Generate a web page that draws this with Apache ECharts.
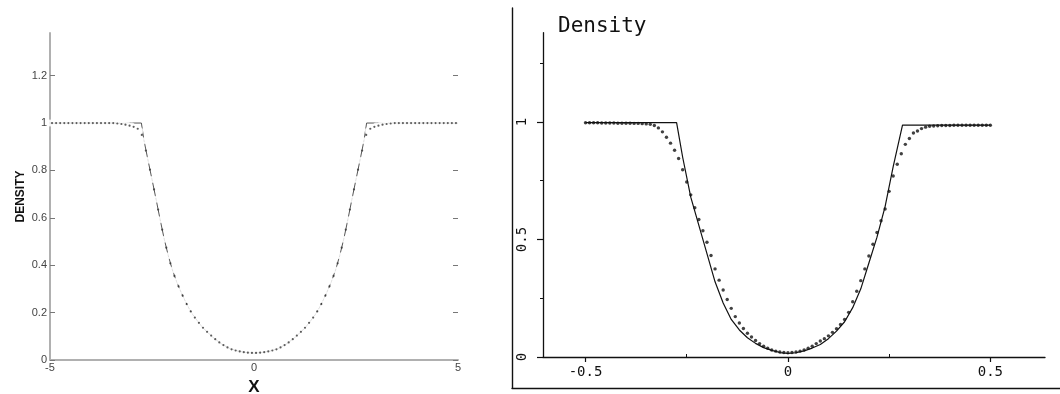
<!DOCTYPE html>
<html>
<head>
<meta charset="utf-8">
<script src="https://cdn.jsdelivr.net/npm/echarts@6/dist/echarts.min.js"></script>
<style>
  html, body { margin: 0; padding: 0; background: #ffffff; }
  #chart { width: 1060px; height: 394px; }
</style>
</head>
<body>
<div id="chart"></div>
<script>
// ---- Left panel: density on [-5, 5] ----
const leftTicksY = [0, 0.2, 0.4, 0.6, 0.8, 1, 1.2];
const leftTicksX = [-5, 0, 5];

// exact solution (solid line)
const leftExactX = [-5, -2.76, -2.7, -2.6, -2.5, -2.4, -2.3, -2.2, -2.1, -2, -1.9, -1.8, -1.7, -1.6, -1.5, -1.4, -1.3, -1.2, -1.1, -1, -0.8, -0.6, -0.4, -0.2, 0,
                    0.2, 0.4, 0.6, 0.8, 1, 1.1, 1.2, 1.3, 1.4, 1.5, 1.6, 1.7, 1.8, 1.9, 2, 2.1, 2.2, 2.3, 2.4, 2.5, 2.6, 2.7, 2.76, 5];
const leftExactY = [1, 1, 0.93, 0.845, 0.762, 0.678, 0.592, 0.51, 0.44, 0.38, 0.332, 0.291, 0.254, 0.22, 0.191, 0.168, 0.146, 0.127, 0.111, 0.095, 0.068, 0.049, 0.038, 0.032, 0.029,
                    0.032, 0.038, 0.049, 0.068, 0.095, 0.111, 0.127, 0.146, 0.168, 0.191, 0.22, 0.254, 0.291, 0.332, 0.38, 0.44, 0.51, 0.592, 0.678, 0.762, 0.845, 0.93, 1, 1];

// computed values, open circles
const leftCircleX = [-5, -4.9, -4.8, -4.7, -4.6, -4.5, -4.4, -4.3, -4.2, -4.1, -4, -3.9, -3.8, -3.7, -3.6, -3.5, -3.4, -3.3, -3.2, -3.1,
                     -3, -2.9, -2.8, -2.7, -2.6, -2.5, -2.4, -2.3, -2.2, -2.1, -2, -1.9, -1.8, -1.7, -1.6, -1.5, -1.4, -1.3, -1.2, -1.1,
                     -1, -0.9, -0.8, -0.7, -0.6, -0.5, -0.4, -0.3, -0.2, -0.1, 0, 0.1, 0.2, 0.3, 0.4, 0.5, 0.6, 0.7, 0.8, 0.9,
                     1, 1.1, 1.2, 1.3, 1.4, 1.5, 1.6, 1.7, 1.8, 1.9, 2, 2.1, 2.2, 2.3, 2.4, 2.5, 2.6, 2.7, 2.8, 2.9,
                     3, 3.1, 3.2, 3.3, 3.4, 3.5, 3.6, 3.7, 3.8, 3.9, 4, 4.1, 4.2, 4.3, 4.4, 4.5, 4.6, 4.7, 4.8, 4.9, 5];
const leftCircleY = [1, 1, 1, 1, 1, 1, 1, 1, 1, 1, 1, 1, 1, 1, 1, 1, 0.999, 0.997, 0.995, 0.991,
                     0.987, 0.981, 0.968, 0.925, 0.843, 0.762, 0.678, 0.592, 0.51, 0.44, 0.38, 0.332, 0.291, 0.254, 0.22, 0.191, 0.168, 0.146, 0.127, 0.111,
                     0.095, 0.081, 0.068, 0.058, 0.049, 0.042, 0.038, 0.034, 0.032, 0.03, 0.029, 0.03, 0.032, 0.034, 0.038, 0.042, 0.049, 0.058, 0.068, 0.081,
                     0.095, 0.111, 0.127, 0.146, 0.168, 0.191, 0.22, 0.254, 0.291, 0.332, 0.38, 0.44, 0.51, 0.592, 0.678, 0.762, 0.843, 0.925, 0.968, 0.981,
                     0.987, 0.991, 0.995, 0.997, 0.999, 1, 1, 1, 1, 1, 1, 1, 1, 1, 1, 1, 1, 1, 1, 1, 1];

// computed values, small dots (half-cell positions)
const leftDotX = [-4.95, -4.85, -4.75, -4.65, -4.55, -4.45, -4.35, -4.25, -4.15, -4.05, -3.95, -3.85, -3.75, -3.65, -3.55, -3.45, -3.35, -3.25, -3.15, -3.05,
                  -2.95, -2.85, -2.75, -2.65, -2.55, -2.45, -2.35, -2.25, -2.15, -2.05, -1.95, -1.85, -1.75, -1.65, -1.55, -1.45, -1.35, -1.25, -1.15, -1.05,
                  -0.95, -0.85, -0.75, -0.65, -0.55, -0.45, -0.35, -0.25, -0.15, -0.05, 0.05, 0.15, 0.25, 0.35, 0.45, 0.55, 0.65, 0.75, 0.85, 0.95,
                  1.05, 1.15, 1.25, 1.35, 1.45, 1.55, 1.65, 1.75, 1.85, 1.95, 2.05, 2.15, 2.25, 2.35, 2.45, 2.55, 2.65, 2.75, 2.85, 2.95,
                  3.05, 3.15, 3.25, 3.35, 3.45, 3.55, 3.65, 3.75, 3.85, 3.95, 4.05, 4.15, 4.25, 4.35, 4.45, 4.55, 4.65, 4.75, 4.85, 4.95];
const leftDotY = [1, 1, 1, 1, 1, 1, 1, 1, 1, 1, 1, 1, 1, 1, 1, 1, 0.998, 0.996, 0.993, 0.989,
                  0.984, 0.976, 0.95, 0.884, 0.803, 0.72, 0.635, 0.55, 0.474, 0.408, 0.355, 0.311, 0.272, 0.236, 0.205, 0.179, 0.157, 0.136, 0.119, 0.103,
                  0.088, 0.074, 0.063, 0.053, 0.045, 0.04, 0.036, 0.033, 0.031, 0.03, 0.03, 0.031, 0.033, 0.036, 0.04, 0.045, 0.053, 0.063, 0.074, 0.088,
                  0.103, 0.119, 0.136, 0.157, 0.179, 0.205, 0.236, 0.272, 0.311, 0.355, 0.408, 0.474, 0.55, 0.635, 0.72, 0.803, 0.884, 0.95, 0.976, 0.984,
                  0.989, 0.993, 0.996, 0.998, 1, 1, 1, 1, 1, 1, 1, 1, 1, 1, 1, 1, 1, 1, 1, 1];

// ---- Right panel: density on [-0.5, 0.5] ----
const rightTicksY = [0, 0.5, 1];
const rightMinorY = [0.25, 0.75, 1.25];
const rightTicksX = [-0.5, 0, 0.5];
const rightMinorX = [-0.25, 0.25];

const rightExactX = [-0.5, -0.275, -0.26, -0.24, -0.22, -0.2, -0.18, -0.16, -0.14, -0.12, -0.1, -0.08, -0.06, -0.04, -0.02, 0,
                     0.02, 0.04, 0.06, 0.08, 0.1, 0.12, 0.14, 0.16, 0.18, 0.2, 0.22, 0.24, 0.26, 0.283, 0.5];
const rightExactY = [0.997, 0.997, 0.85, 0.68, 0.56, 0.44, 0.32, 0.23, 0.16, 0.115, 0.082, 0.058, 0.04, 0.028, 0.019, 0.015,
                     0.018, 0.026, 0.038, 0.053, 0.078, 0.11, 0.15, 0.21, 0.29, 0.4, 0.51, 0.64, 0.81, 0.987, 0.987];

const rightDotX = [-0.5, -0.49, -0.48, -0.47, -0.46, -0.45, -0.44, -0.43, -0.42, -0.41, -0.4, -0.39, -0.38, -0.37, -0.36, -0.35, -0.34, -0.33, -0.32, -0.31,
                   -0.3, -0.29, -0.28, -0.27, -0.26, -0.25, -0.24, -0.23, -0.22, -0.21, -0.2, -0.19, -0.18, -0.17, -0.16, -0.15, -0.14, -0.13, -0.12, -0.11,
                   -0.1, -0.09, -0.08, -0.07, -0.06, -0.05, -0.04, -0.03, -0.02, -0.01, 0, 0.01, 0.02, 0.03, 0.04, 0.05, 0.06, 0.07, 0.08, 0.09,
                   0.1, 0.11, 0.12, 0.13, 0.14, 0.15, 0.16, 0.17, 0.18, 0.19, 0.2, 0.21, 0.22, 0.23, 0.24, 0.25, 0.26, 0.27, 0.28, 0.29,
                   0.3, 0.31, 0.32, 0.33, 0.34, 0.35, 0.36, 0.37, 0.38, 0.39, 0.4, 0.41, 0.42, 0.43, 0.44, 0.45, 0.46, 0.47, 0.48, 0.49, 0.5];
const rightDotY = [0.997, 0.997, 0.997, 0.997, 0.996, 0.996, 0.996, 0.996, 0.995, 0.995, 0.995, 0.995, 0.994, 0.994, 0.993, 0.992, 0.99, 0.985, 0.975, 0.958,
                   0.935, 0.91, 0.88, 0.845, 0.797, 0.745, 0.69, 0.635, 0.585, 0.537, 0.488, 0.432, 0.375, 0.327, 0.285, 0.245, 0.207, 0.172, 0.145, 0.121,
                   0.101, 0.085, 0.07, 0.057, 0.046, 0.037, 0.03, 0.025, 0.021, 0.019, 0.018, 0.019, 0.021, 0.025, 0.03, 0.037, 0.046, 0.057, 0.068, 0.078,
                   0.09, 0.105, 0.12, 0.138, 0.16, 0.19, 0.235, 0.28, 0.325, 0.375, 0.43, 0.48, 0.53, 0.58, 0.63, 0.705, 0.77, 0.82, 0.865, 0.905,
                   0.93, 0.953, 0.962, 0.972, 0.978, 0.982, 0.983, 0.984, 0.985, 0.985, 0.985, 0.986, 0.986, 0.986, 0.986, 0.986, 0.986, 0.986, 0.986, 0.986, 0.986];

const zip = (xs, ys) => xs.map((x, i) => [x, ys[i]]);
const fmt = v => String(+(+v).toFixed(2));

const LEFT_FONT = '"Liberation Sans", Arial, sans-serif';
const MONO = '"DejaVu Sans Mono", monospace';
const hidden = { show: false };

const option = {
  animation: false,
  backgroundColor: '#ffffff',
  title: {
    text: 'Density',
    left: 553, top: 11,
    textStyle: { fontFamily: MONO, fontSize: 21, fontWeight: 'normal', color: '#111' }
  },
  grid: [
    { left: 50, top: 33, width: 408, height: 327, containLabel: false, outerBoundsMode: 'none' },
    { left: 543, top: 32.7, width: 502, height: 324.3, containLabel: false, outerBoundsMode: 'none' },
    { left: 512, top: 8, width: 560, height: 380, containLabel: false, outerBoundsMode: 'none' }
  ],
  xAxis: [
    { // left panel
      type: 'value', gridIndex: 0, min: -5, max: 5, position: 'bottom',
      name: 'X', nameLocation: 'middle', nameGap: 19,
      nameTextStyle: { fontFamily: LEFT_FONT, fontWeight: 900, fontSize: 17, color: '#111' },
      axisLine: { onZero: false, lineStyle: { color: '#b0b0b0', width: 2 } },
      axisTick: hidden,
      splitLine: hidden,
      axisLabel: { customValues: leftTicksX, formatter: fmt, margin: 2, fontFamily: LEFT_FONT, fontSize: 11, color: '#444' }
    },
    { // right panel, major ticks
      type: 'value', gridIndex: 1, min: -0.605, max: 0.635, position: 'bottom',
      axisLine: { onZero: false, lineStyle: { color: '#111', width: 1.3 } },
      axisTick: { customValues: rightTicksX, length: 5, lineStyle: { color: '#111', width: 1.2 } },
      splitLine: hidden,
      axisLabel: { customValues: rightTicksX, formatter: fmt, margin: 8, fontFamily: MONO, fontSize: 14, color: '#111' }
    },
    { // right panel, minor ticks
      type: 'value', gridIndex: 1, min: -0.605, max: 0.635, position: 'bottom', offset: 0,
      axisLine: { show: false, onZero: false },
      axisTick: { customValues: rightMinorX, inside: true, length: 3, lineStyle: { color: '#111', width: 1 } },
      splitLine: hidden, axisLabel: hidden
    },
    { // outer frame
      type: 'value', gridIndex: 2, min: 0, max: 1, position: 'bottom',
      axisLine: { onZero: false, lineStyle: { color: '#111', width: 1.4 } },
      axisTick: hidden, splitLine: hidden, axisLabel: hidden
    }
  ],
  yAxis: [
    { // left panel
      type: 'value', gridIndex: 0, min: 0, max: 1.38, position: 'left',
      name: 'DENSITY', nameLocation: 'middle', nameGap: 23,
      nameTextStyle: { fontFamily: LEFT_FONT, fontWeight: 'bold', fontSize: 12, color: '#111' },
      axisLine: { show: true, onZero: false, lineStyle: { color: '#b0b0b0', width: 2 } },
      axisTick: { customValues: leftTicksY, inside: true, length: 5, lineStyle: { color: '#777', width: 1 } },
      splitLine: hidden,
      axisLabel: { customValues: leftTicksY, formatter: fmt, margin: 3, fontFamily: LEFT_FONT, fontSize: 11, color: '#444' }
    },
    { // left panel, right-hand ticks
      type: 'value', gridIndex: 0, min: 0, max: 1.38, position: 'right', offset: 0,
      axisLine: { show: false, onZero: false },
      axisTick: { show: true, customValues: leftTicksY, inside: true, length: 5, lineStyle: { color: '#777', width: 1 } },
      splitLine: hidden, axisLabel: hidden
    },
    { // right panel, major ticks
      type: 'value', gridIndex: 1, min: 0, max: 1.38, position: 'left',
      axisLine: { show: true, onZero: false, lineStyle: { color: '#111', width: 1.3 } },
      axisTick: { show: true, customValues: rightTicksY, length: 6, lineStyle: { color: '#111', width: 1.2 } },
      splitLine: hidden,
      axisLabel: { customValues: rightTicksY, formatter: fmt, rotate: 90, margin: 14, fontFamily: MONO, fontSize: 14, color: '#111' }
    },
    { // right panel, minor ticks
      type: 'value', gridIndex: 1, min: 0, max: 1.38, position: 'left', offset: 0,
      axisLine: { show: false, onZero: false },
      axisTick: { show: true, customValues: rightMinorY, length: 3, lineStyle: { color: '#111', width: 1 } },
      splitLine: hidden, axisLabel: hidden
    },
    { // outer frame
      type: 'value', gridIndex: 2, min: 0, max: 1, position: 'left',
      axisLine: { show: true, onZero: false, lineStyle: { color: '#111', width: 1.4 } },
      axisTick: hidden, splitLine: hidden, axisLabel: hidden
    }
  ],
  series: [
    {
      type: 'line', xAxisIndex: 0, yAxisIndex: 0,
      data: zip(leftExactX, leftExactY),
      showSymbol: false, lineStyle: { color: '#555', width: 1 }, z: 2
    },
    {
      type: 'scatter', xAxisIndex: 0, yAxisIndex: 0,
      data: zip(leftCircleX, leftCircleY),
      symbol: 'emptyCircle', symbolSize: 5,
      itemStyle: { color: '#ffffff', borderColor: '#555', borderWidth: 0.9 }, z: 3
    },
    {
      type: 'scatter', xAxisIndex: 0, yAxisIndex: 0,
      data: zip(leftDotX, leftDotY),
      symbol: 'circle', symbolSize: 2.2,
      itemStyle: { color: '#333' }, z: 4
    },
    {
      type: 'line', xAxisIndex: 1, yAxisIndex: 2,
      data: zip(rightExactX, rightExactY),
      showSymbol: false, lineStyle: { color: '#111', width: 1.2 }, z: 2
    },
    {
      type: 'scatter', xAxisIndex: 1, yAxisIndex: 2,
      data: zip(rightDotX, rightDotY),
      symbol: 'circle', symbolSize: 3.4,
      itemStyle: { color: '#111' }, z: 3
    }
  ]
};

const chart = echarts.init(document.getElementById('chart'), null, { renderer: 'canvas' });
chart.setOption(option);
</script>
</body>
</html>
